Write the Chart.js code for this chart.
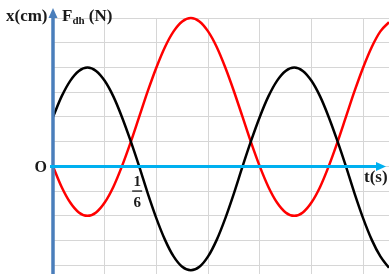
<!DOCTYPE html>
<html lang="vi">
<head>
    <meta charset="UTF-8">
    <title>x(cm) - Fdh (N)</title>
    <script src="https://cdn.jsdelivr.net/npm/chart.js"></script>
    <style>
        html, body { margin: 0; padding: 0; background: #fff; }
        #wrap { width: 389px; height: 274px; }
    </style>
</head>
<body>
    <div id="wrap"><canvas id="chartDao" width="389" height="274"></canvas></div>

    <script>
        // thoi gian (s), doc tu hinh: buoc 1/60 s
        const thoiGian = [0, 0.0167, 0.0333, 0.05, 0.0667, 0.0833, 0.1, 0.1167, 0.1333, 0.15,
            0.1667, 0.1833, 0.2, 0.2167, 0.2333, 0.25, 0.2667, 0.2833, 0.3, 0.3167,
            0.3333, 0.35, 0.3667, 0.3833, 0.4, 0.4167, 0.4333, 0.45, 0.4667, 0.4833,
            0.5, 0.5167, 0.5333, 0.55, 0.5667, 0.5833, 0.6, 0.6167, 0.6333, 0.65];

        // li do x (duong den), theo o luoi
        const liDo = [2.0, 2.83, 3.46, 3.86, 4.0, 3.86, 3.46, 2.83, 2.0, 1.04,
            0, -1.09, -2.1, -2.97, -3.64, -4.06, -4.2, -4.06, -3.64, -2.97,
            -2.1, -1.09, 0, 1.04, 2.0, 2.83, 3.46, 3.86, 4.0, 3.86,
            3.46, 2.83, 2.0, 1.04, 0, -1.09, -2.1, -2.97, -3.64, -4.1];

        // luc dan hoi Fdh (duong do), theo o luoi
        const lucDanHoi = [0, -0.83, -1.46, -1.86, -2.0, -1.86, -1.46, -0.83, 0, 0.96,
            2.0, 3.04, 4.0, 4.83, 5.46, 5.86, 6.0, 5.86, 5.46, 4.83,
            4.0, 3.04, 2.0, 0.96, 0, -0.83, -1.46, -1.86, -2.0, -1.86,
            -1.46, -0.83, 0, 0.96, 2.0, 3.04, 4.0, 4.83, 5.46, 5.83];

        // vach luoi
        const vachX = [0, 0.1, 0.2, 0.3, 0.4, 0.5, 0.6];
        const vachY = [-4, -3, -2, -1, 0, 1, 2, 3, 4, 5, 6];

        const FONT = '"Liberation Serif", "Times New Roman", serif';

        // ve truc, mui ten va chu
        const trucPlugin = {
            id: 'trucToaDo',
            afterDatasetsDraw(chart) {
                const ctx = chart.ctx;
                const sx = chart.scales.x, sy = chart.scales.y;
                const x0 = sx.getPixelForValue(0);
                const y0 = sy.getPixelForValue(0);
                ctx.save();

                // truc dung
                ctx.strokeStyle = '#4a7ebb';
                ctx.fillStyle = '#4a7ebb';
                ctx.lineWidth = 3.5;
                ctx.beginPath();
                ctx.moveTo(x0, chart.height);
                ctx.lineTo(x0, 17);
                ctx.stroke();
                ctx.beginPath();
                ctx.moveTo(x0, 8);
                ctx.lineTo(x0 - 4.5, 18);
                ctx.lineTo(x0 + 4.5, 18);
                ctx.closePath();
                ctx.fill();

                // truc ngang
                ctx.strokeStyle = '#00b0f0';
                ctx.fillStyle = '#00b0f0';
                ctx.lineWidth = 3;
                ctx.beginPath();
                ctx.moveTo(x0 - 3, y0);
                ctx.lineTo(377, y0);
                ctx.stroke();
                ctx.beginPath();
                ctx.moveTo(386, y0);
                ctx.lineTo(376, y0 - 4.5);
                ctx.lineTo(376, y0 + 4.5);
                ctx.closePath();
                ctx.fill();

                // chu
                ctx.fillStyle = '#1a1a1a';
                ctx.textBaseline = 'alphabetic';
                ctx.textAlign = 'left';
                ctx.font = 'bold 17px ' + FONT;
                ctx.fillText('x(cm)', 6, 21);

                let px = 62;
                ctx.fillText('F', px, 21);
                px += ctx.measureText('F').width;
                ctx.font = 'bold 11px ' + FONT;
                ctx.fillText('dh', px, 24);
                px += ctx.measureText('dh').width;
                ctx.font = 'bold 17px ' + FONT;
                ctx.fillText(' (N)', px, 21);

                ctx.font = 'bold 16px ' + FONT;
                ctx.textAlign = 'right';
                ctx.fillText('O', x0 - 6, y0 + 6);

                ctx.font = 'bold 17px ' + FONT;
                ctx.textAlign = 'left';
                ctx.fillText('t(s)', 364, y0 + 16);

                // phan so 1/6
                const xp = sx.getPixelForValue(1 / 6) - 2;
                ctx.font = 'bold 15px ' + FONT;
                ctx.textAlign = 'center';
                ctx.fillText('1', xp, y0 + 20);
                ctx.fillRect(xp - 5, y0 + 24, 10, 1.3);
                ctx.fillText('6', xp, y0 + 41);

                ctx.restore();
            }
        };

        new Chart(document.getElementById('chartDao'), {
            type: 'line',
            data: {
                datasets: [
                    {
                        label: 'x (cm)',
                        data: thoiGian.map((t, i) => ({ x: t, y: liDo[i] })),
                        borderColor: '#000000',
                        borderWidth: 2.5,
                        pointRadius: 0,
                        cubicInterpolationMode: 'monotone',
                        clip: 4
                    },
                    {
                        label: 'Fdh (N)',
                        data: thoiGian.map((t, i) => ({ x: t, y: lucDanHoi[i] })),
                        borderColor: '#ff0000',
                        borderWidth: 2.5,
                        pointRadius: 0,
                        cubicInterpolationMode: 'monotone',
                        clip: 4
                    }
                ]
            },
            options: {
                responsive: false,
                animation: false,
                layout: { padding: { left: 53, top: 18, right: 0, bottom: 0 } },
                plugins: {
                    legend: { display: false },
                    tooltip: { enabled: false }
                },
                scales: {
                    x: {
                        type: 'linear',
                        min: 0,
                        max: 0.65,
                        afterBuildTicks: (s) => { s.ticks = vachX.map(v => ({ value: v })); },
                        ticks: { display: false },
                        border: { display: false },
                        grid: { color: '#d6d6d6', lineWidth: 1, drawTicks: false }
                    },
                    y: {
                        type: 'linear',
                        min: -4.35,
                        max: 6,
                        afterBuildTicks: (s) => { s.ticks = vachY.map(v => ({ value: v })); },
                        ticks: { display: false },
                        border: { display: false },
                        grid: { color: '#d6d6d6', lineWidth: 1, drawTicks: false }
                    }
                }
            },
            plugins: [trucPlugin]
        });
    </script>
</body>
</html>
